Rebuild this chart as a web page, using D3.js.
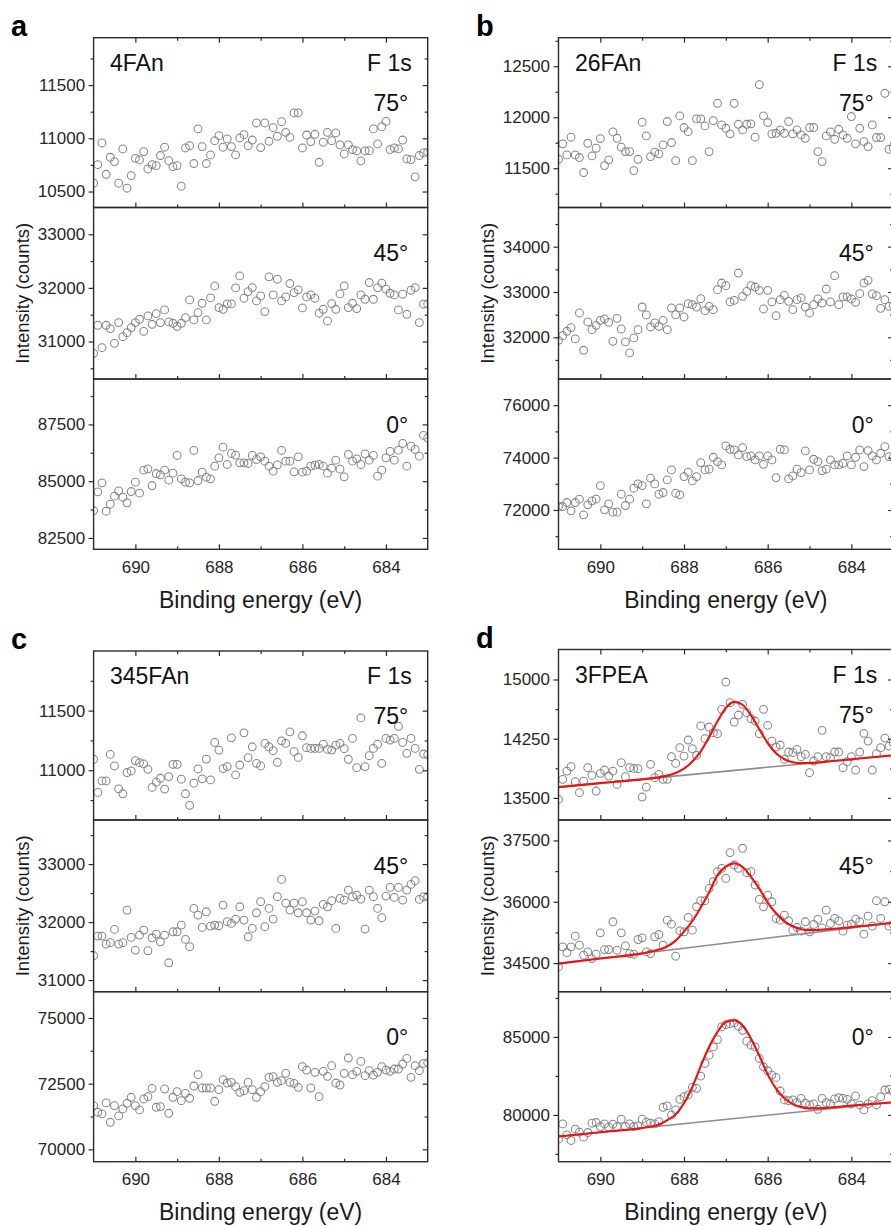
<!DOCTYPE html>
<html>
<head>
<meta charset="utf-8">
<script src="https://cdn.jsdelivr.net/npm/d3@7/dist/d3.min.js"></script>
<style>
  body { margin: 0; background: #fff; }
  svg { display: block; }
  text { font-family: "Liberation Sans", Arial, sans-serif; }
</style>
</head>
<body>
<svg id="chart" width="891" height="1226"></svg>
<script>
// ---------- F 1s XPS spectra: binding-energy grid (eV) ----------
const energy = [
  691.0,690.9,690.8,690.7,690.6,690.5,690.4,690.3,690.2,690.1,
  690.0,689.9,689.8,689.7,689.6,689.5,689.4,689.3,689.2,689.1,
  689.0,688.9,688.8,688.7,688.6,688.5,688.4,688.3,688.2,688.1,
  688.0,687.9,687.8,687.7,687.6,687.5,687.4,687.3,687.2,687.1,
  687.0,686.9,686.8,686.7,686.6,686.5,686.4,686.3,686.2,686.1,
  686.0,685.9,685.8,685.7,685.6,685.5,685.4,685.3,685.2,685.1,
  685.0,684.9,684.8,684.7,684.6,684.5,684.4,684.3,684.2,684.1,
  684.0,683.9,683.8,683.7,683.6,683.5,683.4,683.3,683.2,683.1,
  683.0
];
const xTicksMajor = [690, 688, 686, 684];
const xTicksMinor = [689, 687, 685];
const angles = ["75°", "45°", "0°"];

// ---------- 4FAn ----------
const fan4_75 = [
  10578,10753,10956,10662,10822,10781,10578,10900,10531,10650,
  10812,10797,10875,10712,10753,10744,10838,10916,10790,10734,
  10744,10550,10909,10931,10763,11088,10922,10763,10844,10978,
  11025,10916,10994,10922,10844,11003,11034,10931,10984,11144,
  10913,11144,10972,11100,11019,11156,11056,11009,11238,11238,
  10909,11031,10969,11038,10775,10963,11056,10978,11050,10938,
  10853,10938,10894,10881,10788,10881,10884,11088,10947,11109,
  11159,10894,10909,10900,10984,10806,10800,10638,10838,10863,
  10870];
const fan4_45 = [
  30779,31302,30885,31302,31240,30966,31352,31090,31165,31259,
  31352,31414,31190,31477,31321,31520,31352,31589,31365,31340,
  31284,31340,31446,31776,31402,31539,31713,31402,31813,32037,
  31632,31601,31701,31701,32000,32224,31807,31931,32006,31757,
  31850,31558,32206,31869,32162,31757,31832,32081,31913,31963,
  31626,31832,31869,31807,31527,31601,31383,31707,31601,31888,
  32037,31632,31713,31614,31869,31788,32100,31788,32006,32087,
  31975,31900,31869,31589,31882,31508,31956,32006,31352,31695,
  31700];
const fan4_0 = [
  83706,84530,84926,83677,83986,84339,84574,84294,84045,84544,
  84956,84471,85485,85544,84809,85338,85279,85485,85044,85353,
  86132,85103,84956,84926,86352,85029,85397,85176,85103,85662,
  86029,86499,85735,86220,86147,85809,85809,85779,86132,85956,
  86073,85882,85662,85441,85720,86352,85882,85882,85412,86073,
  85397,85441,85662,85706,85735,85662,85353,85573,85926,85529,
  85191,86176,85882,85985,85735,86205,85926,86132,85220,85485,
  86029,86308,85926,86367,86661,85662,86543,86396,86103,87014,
  86900];
const fan4Ticks = [[10500, 11000, 11500], [31000, 32000, 33000], [82500, 85000, 87500]];

// ---------- 26FAn ----------
const fan26_75 = [
  11588,11739,11631,11804,11631,11605,11458,11745,11621,11696,
  11791,11526,11582,11856,11794,11706,11663,11663,11477,11588,
  11951,11817,11614,11657,11641,11729,11958,11752,11575,12013,
  11899,11859,11575,11984,11984,11915,11663,11967,12137,11925,
  11892,11837,12137,11931,11876,11931,11935,11804,12320,12013,
  11948,11837,11843,11876,11843,11958,11837,11876,11827,11794,
  11899,11899,11663,11565,11817,11856,11784,11882,11827,11794,
  12007,11739,11892,11761,11712,11925,11801,11801,12235,11686,
  11700];
const fan26_45 = [
  31934,32037,32133,32214,31964,32537,31714,32339,32169,32265,
  32375,32405,32331,31912,32419,32184,31898,31655,31986,32169,
  32669,32493,32228,32316,32243,32375,32169,32647,32500,32647,
  32449,32743,32721,32669,32853,32588,32684,32610,33051,33198,
  33140,32780,32816,33419,32904,33015,33140,33110,33037,32625,
  33037,32780,32478,32831,32927,32794,32610,32831,32868,32669,
  32537,32721,32846,32757,33066,32780,33360,32721,32890,32890,
  32846,32772,32963,33198,33257,32956,32919,32640,32831,32684,
  32700];
const fan26_0 = [
  72133,72133,72286,71968,72286,72413,71816,72197,72349,72413,
  72933,72006,72235,71917,71917,72603,72171,72413,72832,72997,
  72933,72235,73213,72997,72603,72667,73149,73530,72641,72578,
  73276,73441,73111,73276,73810,73530,73556,74013,73848,73721,
  74445,74318,74292,74102,74381,74038,74064,73911,74064,73746,
  74064,73911,73238,74318,74292,73187,73302,73556,73429,74254,
  73530,73937,73848,73505,73556,73911,73721,73721,73784,74064,
  73721,74013,74292,73657,74267,74064,73911,74165,74419,74038,
  74000];
const fan26Ticks = [[11500, 12000, 12500], [32000, 33000, 34000], [72000, 74000, 76000]];

// ---------- 345FAn ----------
const fan345_75 = [
  11092,10814,10911,10911,11133,11036,10844,10803,10981,10994,
  11081,11064,11053,11008,10856,10900,10933,10842,10947,11050,
  11050,10925,10803,10706,10892,11011,10928,11094,10919,11233,
  11169,11014,11031,11272,10961,11044,11314,11106,11197,11058,
  11036,11225,11197,11164,11067,11247,11225,11322,11156,11108,
  11289,11189,11183,11183,11183,11219,11175,11169,11211,11225,
  11181,11092,11267,11022,11439,11031,11122,11183,11219,11058,
  11267,11253,11267,11369,11233,11142,11267,11183,11008,11136,
  11130];
const fan345_45 = [
  31420,31759,31759,31621,31644,31874,31621,31644,32207,31736,
  31517,31776,31862,31506,31730,31793,31661,31776,31299,31833,
  31833,31948,31701,31575,32236,32121,31908,32178,31931,31948,
  31937,32293,32006,31977,32052,32264,32034,31747,31891,32161,
  32351,31920,32236,32052,32437,32736,32328,32207,32328,32161,
  32351,32161,32034,32190,32023,32305,32264,32368,31891,32408,
  32379,32552,32437,32466,32397,31879,32552,32437,32236,32075,
  32448,32598,32425,32598,32379,32552,32649,32713,32391,32437,
  32440];
const fan345_0 = [
  71665,71411,71348,71766,71031,71665,71272,71538,71753,71981,
  71665,71500,71918,72006,72323,71601,71627,72297,71373,71981,
  72196,71854,72133,71943,72411,72842,72335,72335,72335,71829,
  72272,72652,72525,72551,72386,72171,72234,72551,72272,71981,
  72196,72386,72741,72766,72551,72614,72892,72551,72513,72361,
  73146,73019,72335,72930,72006,72968,72779,73184,72525,72449,
  72892,73475,72842,72968,73348,72804,72994,72829,72930,73146,
  73019,72968,73057,73057,73247,73462,72741,73184,72994,73272,
  73300];
const fan345Ticks = [[11000, 11500], [31000, 32000, 33000], [70000, 72500, 75000]];

// ---------- 3FPEA ----------
const fpea_75 = [
  13481,13735,13840,13895,13705,13566,13713,13882,13785,13587,
  13811,13853,13777,13840,13671,13946,13768,13882,13874,13870,
  13511,13637,13925,13756,13798,13735,13735,14022,13937,14136,
  14030,14233,14123,14039,14411,14250,14398,14326,14313,14622,
  14968,14706,14461,14550,14685,14580,14504,14474,14313,14622,
  14419,14220,14144,14170,13988,14081,14073,14115,14022,14051,
  13819,13967,14022,14356,14022,14009,14081,14081,13882,13958,
  14022,13853,14081,14318,14220,13853,14060,14136,14258,14157,
  14200];
const fpea_45 = [
  34406,34897,34758,34897,35158,34937,34692,34774,34610,34717,
  35240,34831,34831,35510,34815,35240,34921,34733,34717,35076,
  35117,34774,34733,35142,35199,34937,35550,35452,34668,35289,
  35264,35616,35305,35877,36025,36025,36327,36490,36736,36817,
  36572,37202,36899,36817,37308,36711,36736,36409,36057,35877,
  36163,36000,35591,35550,35673,35534,35305,35371,35281,35510,
  35264,35444,35567,35362,35796,35469,35591,35534,35281,35428,
  35452,35575,35510,35207,35648,35403,36025,35591,36000,35403,
  35450];
const fpea_0 = [
  78447,79425,78723,78361,79085,78893,78574,78872,79468,79511,
  79255,79425,79213,79404,79255,79723,79255,79425,79255,79298,
  79723,79532,79468,79425,79574,80489,80575,80000,80319,81000,
  81170,81277,81766,81702,82490,83298,83830,84362,84830,85639,
  85788,85852,85894,85682,85426,84724,84469,84362,83618,83086,
  82830,82554,82405,81532,80958,80915,80958,80787,81064,80745,
  80638,80702,80362,81064,80787,80702,81021,81107,81064,81000,
  80702,81213,80638,80319,80702,80915,80638,81170,81596,81638,
  81500];
const fpeaTicks = [[13500, 14250, 15000], [34500, 36000, 37500], [80000, 85000]];

// peak fit envelopes and linear backgrounds for 3FPEA
const fitEnergy = [691, 690, 689, 688.6, 688.4, 688.2, 688.0, 687.8, 687.6, 687.4, 687.2, 687.0,
                   686.8, 686.6, 686.4, 686.2, 686.0, 685.8, 685.6, 685.4, 685.2, 685.0, 684.5, 684, 683];
const fit_75 = [13637, 13687, 13735, 13760, 13782, 13815, 13870, 13960, 14090, 14270, 14470, 14640,
                14716, 14680, 14545, 14370, 14195, 14065, 13990, 13952, 13940, 13942, 13964, 13989, 14039];
const fit_45 = [34488, 34613, 34737, 34830, 34910, 35050, 35270, 35530, 35860, 36230, 36650, 36860,
                36940, 36850, 36610, 36320, 35980, 35720, 35520, 35400, 35330, 35305, 35335, 35380, 35485];
const fit_0  = [78617, 78890, 79165, 79380, 79670, 80030, 80745, 81800, 83130, 84350, 85320, 85960,
                86060, 85730, 84900, 83800, 82600, 81680, 81064, 80690, 80500, 80420, 80480, 80600, 80809];
const bgEnergy = [691, 683];
const bg_75 = [13637, 14039];
const bg_45 = [34488, 35485];
const bg_0  = [78617, 80809];

// ---------- layout ----------
const svg = d3.select("#chart");
const colA = [93.6, 427.7], colB = [558.5, 893.2];
const rowsTop = [37.7, 207.5, 379, 549.3];
const rowsC = [651, 820, 991.7, 1161.7];
const rowsD = [649.5, 820, 991.7, 1161.7];

const panels = [
  { letter: "a", sample: "4FAn", xr: colA, ys: rowsTop,
    series: [fan4_75, fan4_45, fan4_0], ticks: fan4Ticks,
    domains: [[10350, 11945], [30300, 33500], [82000, 89500]] },
  { letter: "b", sample: "26FAn", xr: colB, ys: rowsTop,
    series: [fan26_75, fan26_45, fan26_0], ticks: fan26Ticks,
    domains: [[11115, 12780], [31080, 34865], [70500, 77000]] },
  { letter: "c", sample: "345FAn", xr: colA, ys: rowsC,
    series: [fan345_75, fan345_45, fan345_0], ticks: fan345Ticks,
    domains: [[10583, 12000], [30800, 33760], [69530, 76000]] },
  { letter: "d", sample: "3FPEA", xr: colB, ys: rowsD,
    series: [fpea_75, fpea_45, fpea_0], ticks: fpeaTicks,
    domains: [[13220, 15380], [33800, 38000], [77000, 87900]],
    fits: [fit_75, fit_45, fit_0], bgs: [bg_75, bg_45, bg_0] }
];

const AXIS = "#2b2b2b";
const MARK = "#858585";
const fmtInt = d3.format("d");

function minorsOf(major, dom) {
  const step = major[1] - major[0];
  const lo = Math.min(...dom), hi = Math.max(...dom), pad = step * 0.04;
  const out = [];
  for (let t = major[0] - step / 2; t > lo + pad; t -= step) out.push(t);
  for (let t = major[0] + step / 2; t < hi - pad; t += step) out.push(t);
  return out;
}

function styleAxis(g) {
  g.select(".domain").remove();
  g.selectAll(".tick line").attr("stroke", AXIS).attr("stroke-width", 1.2);
  g.selectAll(".tick text").attr("fill", "#262626")
    .style("font-family", '"Liberation Sans", Arial, sans-serif').style("font-size", "17px");
}

let clipId = 0;
panels.forEach(p => {
  const x = d3.scaleLinear().domain([691, 683]).range(p.xr);
  const gP = svg.append("g");

  p.series.forEach((vals, i) => {
    const top = p.ys[i], bottom = p.ys[i + 1];
    const y = d3.scaleLinear().domain(p.domains[i]).range([bottom, top]);
    const g = gP.append("g");
    const cid = "clip" + (clipId++);
    svg.append("clipPath").attr("id", cid).append("rect")
      .attr("x", p.xr[0]).attr("y", top).attr("width", p.xr[1] - p.xr[0]).attr("height", bottom - top);

    const plot = g.append("g").attr("clip-path", `url(#${cid})`);

    if (p.bgs) {
      plot.append("path")
        .datum(bgEnergy.map((e, k) => [e, p.bgs[i][k]]))
        .attr("d", d3.line().x(d => x(d[0])).y(d => y(d[1])))
        .attr("fill", "none").attr("stroke", "#8c8c8c").attr("stroke-width", 1.6);
    }

    plot.selectAll("circle").data(energy.map((e, k) => [e, vals[k]])).join("circle")
      .attr("cx", d => x(d[0])).attr("cy", d => y(d[1])).attr("r", 3.9)
      .attr("fill", "none").attr("stroke", MARK).attr("stroke-width", 1.05);

    if (p.fits) {
      plot.append("path")
        .datum(fitEnergy.map((e, k) => [e, p.fits[i][k]]))
        .attr("d", d3.line().curve(d3.curveMonotoneX).x(d => x(d[0])).y(d => y(d[1])))
        .attr("fill", "none").attr("stroke", "#f01010").attr("stroke-width", 2.1);
    }

    // axes
    const major = p.ticks[i], minor = minorsOf(major, p.domains[i]);
    g.append("g").attr("transform", `translate(${p.xr[0]},0)`)
      .call(d3.axisLeft(y).tickValues(major).tickSize(5).tickPadding(3.5).tickFormat(fmtInt)).call(styleAxis);
    g.append("g").attr("transform", `translate(${p.xr[0]},0)`)
      .call(d3.axisLeft(y).tickValues(minor).tickSize(3).tickFormat("")).call(styleAxis);
    g.append("g").attr("transform", `translate(${p.xr[1]},0)`)
      .call(d3.axisRight(y).tickValues(major).tickSize(-5).tickFormat("")).call(styleAxis);
    g.append("g").attr("transform", `translate(${p.xr[1]},0)`)
      .call(d3.axisRight(y).tickValues(minor).tickSize(-3).tickFormat("")).call(styleAxis);

    const last = i === p.series.length - 1;
    g.append("g").attr("transform", `translate(0,${bottom})`)
      .call(d3.axisBottom(x).tickValues(xTicksMajor).tickSize(-5).tickPadding(11.7)
        .tickFormat(last ? fmtInt : "")).call(styleAxis);
    g.append("g").attr("transform", `translate(0,${bottom})`)
      .call(d3.axisBottom(x).tickValues(xTicksMinor).tickSize(-3).tickFormat("")).call(styleAxis);
    if (i === 0) {
      g.append("g").attr("transform", `translate(0,${top})`)
        .call(d3.axisTop(x).tickValues(xTicksMajor).tickSize(-5).tickFormat("")).call(styleAxis);
      g.append("g").attr("transform", `translate(0,${top})`)
        .call(d3.axisTop(x).tickValues(xTicksMinor).tickSize(-3).tickFormat("")).call(styleAxis);
    }

    g.append("rect").attr("x", p.xr[0]).attr("y", top)
      .attr("width", p.xr[1] - p.xr[0]).attr("height", bottom - top)
      .attr("fill", "none").attr("stroke", AXIS).attr("stroke-width", 1.4);

    // angle label
    g.append("text").attr("x", p.xr[1] - 19.5).attr("y", top + (i === 0 ? 73 : 53.5))
      .attr("text-anchor", "end").attr("fill", "#111").style("font-size", "23px")
      .text(angles[i]);
    if (i === 0) {
      g.append("text").attr("x", p.xr[0] + 16.4).attr("y", top + 33)
        .attr("fill", "#111").style("font-size", "23px").text(p.sample);
      g.append("text").attr("x", p.xr[1] - 16).attr("y", top + 33)
        .attr("text-anchor", "end").attr("fill", "#111").style("font-size", "23px").text("F 1s");
    }
  });

  const bottomY = p.ys[3];
  gP.append("text").attr("x", (p.xr[0] + p.xr[1]) / 2).attr("y", bottomY + 58.5)
    .attr("text-anchor", "middle").attr("fill", "#1a1a1a").style("font-size", "23px")
    .text("Binding energy (eV)");
  const midY = (p.ys[1] + p.ys[2]) / 2;
  gP.append("text").attr("transform", `translate(${p.xr[0] - 65},${midY}) rotate(-90)`)
    .attr("text-anchor", "middle").attr("fill", "#1a1a1a").style("font-size", "18.5px")
    .text("Intensity (counts)");
  gP.append("text").attr("x", p.xr[0] - 82.5).attr("y", p.ys[0] - 2)
    .attr("fill", "#000").style("font-size", "29px").style("font-weight", "bold")
    .text(p.letter);
});
</script>
</body>
</html>
